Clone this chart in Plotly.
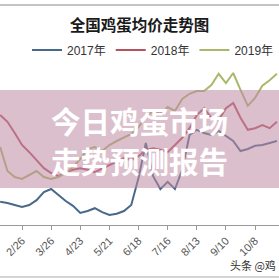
import plotly.graph_objects as go

dates = ["2019-02-05","2019-02-12","2019-02-19","2019-02-26","2019-03-05","2019-03-12","2019-03-19",
         "2019-03-26","2019-04-02","2019-04-09","2019-04-16","2019-04-23","2019-04-30","2019-05-07",
         "2019-05-14","2019-05-21","2019-05-28","2019-06-04","2019-06-11","2019-06-18","2019-06-25",
         "2019-07-02","2019-07-09","2019-07-16","2019-07-23","2019-07-30","2019-08-06","2019-08-13",
         "2019-08-20","2019-08-27","2019-09-03","2019-09-10","2019-09-17","2019-09-24","2019-10-01",
         "2019-10-08","2019-10-15","2019-10-22","2019-10-29"]

price_2017 = [3.08,3.05,3.00,2.95,3.00,3.12,3.32,3.40,3.25,3.10,2.98,2.80,2.85,2.92,2.82,2.75,2.78,
              2.85,3.00,3.68,4.55,3.72,3.40,3.58,3.40,3.88,4.75,4.88,4.80,4.75,4.85,4.72,4.60,
              4.35,4.40,4.48,4.50,4.55,4.60]
price_2018 = [5.25,5.08,4.80,4.50,4.32,4.12,3.92,3.80,3.72,3.82,3.88,3.92,3.88,3.82,3.92,4.00,4.08,
              4.18,4.12,4.22,4.38,4.42,4.38,4.32,4.50,4.68,4.92,5.25,5.42,5.18,5.12,5.42,5.55,
              5.18,4.88,4.92,5.00,4.92,5.08]
price_2019 = [4.45,3.85,3.70,3.65,3.75,3.85,3.70,3.65,3.70,3.80,3.95,4.15,4.40,4.45,4.35,4.50,4.60,
              4.70,4.78,4.95,5.20,5.35,5.28,5.45,5.35,5.65,5.78,5.85,5.85,6.00,6.28,6.05,6.30,
              5.88,5.48,5.68,5.98,6.12,6.28]

tick_vals = ["2019-01-01","2019-01-29","2019-02-26","2019-03-26","2019-04-23","2019-05-21","2019-06-18",
             "2019-07-16","2019-08-13","2019-09-10","2019-10-08","2019-11-05"]
tick_text = ["1/1","1/29","2/26","3/26","4/23","5/21","6/18","7/16","8/13","9/10","10/8","11/5"]

series = [("2017年", price_2017, "#47698a"),
          ("2018年", price_2018, "#b5525f"),
          ("2019年", price_2019, "#a9b96a")]

fig = go.Figure()
for name, vals, col in series:
    fig.add_trace(go.Scatter(x=dates, y=vals, name=name, mode="lines",
                             line=dict(color=col, width=2)))

fig.update_layout(
    width=279, height=279,
    margin=dict(l=0, r=0, t=57, b=54),
    paper_bgcolor="white", plot_bgcolor="white",
    title=dict(text="<b>全国鸡蛋均价走势图</b>", x=0.5, xanchor="center", y=0.91, yanchor="middle",
               font=dict(family="Noto Sans CJK SC", size=15.5, color="#1a1a1a")),
    legend=dict(orientation="h", x=0.565, xanchor="center", y=1.042, yanchor="middle",
                font=dict(family="Liberation Sans, Noto Sans CJK SC", size=12, color="#333333"),
                bgcolor="rgba(0,0,0,0)"),
    showlegend=True,
    xaxis=dict(type="date", range=["2019-02-04 20:00", "2019-10-31"],
               tickvals=tick_vals, ticktext=tick_text, tickangle=-45,
               ticks="outside", ticklen=4, tickcolor="#999999",
               showline=True, linecolor="#999999", linewidth=1, showgrid=False,
               tickfont=dict(family="Liberation Sans", size=11, color="#555555")),
    yaxis=dict(range=[2.5, 6.7], visible=False, showgrid=False),
)

# separator lines top and bottom
fig.add_shape(type="line", xref="paper", yref="paper", x0=0, x1=1, y0=1.3095, y1=1.3095,
              line=dict(color="#888888", width=1))
fig.add_shape(type="line", xref="paper", yref="paper", x0=0, x1=1, y0=-0.3095, y1=-0.3095,
              line=dict(color="#aaaaaa", width=1))

# overlay band
fig.add_shape(type="rect", xref="paper", yref="paper", x0=0, x1=1, y0=0.2202, y1=0.8036,
              fillcolor="rgba(191,139,162,0.55)", line=dict(width=0), layer="above")

for txt, yy in [("今日鸡蛋市场", 0.625), ("走势预测报告", 0.387)]:
    fig.add_annotation(text="<b>" + txt + "</b>", xref="paper", yref="paper", x=0.5, y=yy,
                       xanchor="center", yanchor="middle", showarrow=False,
                       font=dict(family="Noto Sans CJK SC", size=29.5, color="white"))

fig.add_annotation(text="头条 @鸡", xref="paper", yref="paper", x=0.998, y=-0.238,
                   xanchor="right", yanchor="middle", showarrow=False,
                   font=dict(family="Noto Sans CJK SC", size=11, color="#333333"))

fig.write_html("out.html")
